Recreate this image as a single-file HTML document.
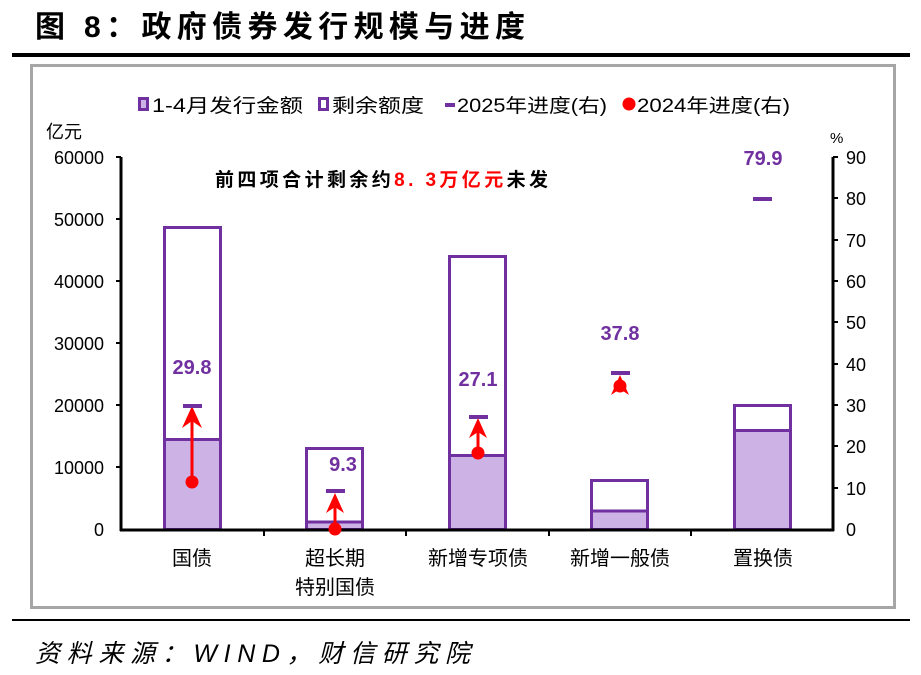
<!DOCTYPE html>
<html><head><meta charset="utf-8"><style>
html,body{margin:0;padding:0;background:#fff;}
svg{display:block;}
text{font-family:"Liberation Sans","Noto Sans CJK SC",sans-serif;}
</style></head><body>
<svg width="921" height="675" viewBox="0 0 921 675" xmlns="http://www.w3.org/2000/svg">
<text x="35" y="37" font-size="30" font-weight="bold" font-family="'Noto Serif CJK SC','Liberation Serif',serif" fill="#000" textLength="490" lengthAdjust="spacing">图 8：政府债券发行规模与进度</text>
<rect x="12" y="53" width="898" height="4" fill="#000"/>
<rect x="31.5" y="65.5" width="863" height="542" fill="none" stroke="#A6A6A6" stroke-width="3"/>
<rect x="12" y="619" width="898" height="2" fill="#000"/>
<text x="35" y="662" font-size="25" font-style="italic" font-family="'Noto Serif CJK SC','Liberation Serif',serif" fill="#000" textLength="435" lengthAdjust="spacing">资料来源：WIND，财信研究院</text>

<!-- legend -->
<rect x="138" y="97" width="11" height="14" fill="#7030A0"/><rect x="141" y="100" width="5" height="8" fill="#CDB2E6"/>
<text x="152" y="112" font-size="19" fill="#000" textLength="151" lengthAdjust="spacingAndGlyphs">1-4月发行金额</text>
<rect x="318" y="97" width="11" height="14" fill="#7030A0"/><rect x="321" y="100" width="5" height="8" fill="#fff"/>
<text x="332" y="112" font-size="19" fill="#000" textLength="92" lengthAdjust="spacingAndGlyphs">剩余额度</text>
<rect x="445" y="103" width="10" height="4" fill="#7030A0"/>
<text x="457" y="112" font-size="19" fill="#000" textLength="150" lengthAdjust="spacingAndGlyphs">2025年进度(右)</text>
<circle cx="629" cy="104" r="6.5" fill="#FF0000"/>
<text x="637" y="112" font-size="19" fill="#000" textLength="153" lengthAdjust="spacingAndGlyphs">2024年进度(右)</text>

<text x="46" y="138" font-size="18" fill="#000">亿元</text>
<text x="830" y="143" font-size="15" fill="#000">%</text>

<!-- left axis -->
<g font-size="18" fill="#000" text-anchor="end">
<text x="104" y="536">0</text><text x="104" y="474">10000</text><text x="104" y="412">20000</text>
<text x="104" y="350">30000</text><text x="104" y="288">40000</text><text x="104" y="226">50000</text><text x="104" y="164">60000</text>
</g>
<g stroke="#000" stroke-width="2">
<line x1="121" y1="157" x2="121" y2="531" stroke-width="3"/>
<line x1="116" y1="157" x2="121" y2="157"/><line x1="116" y1="219" x2="121" y2="219"/><line x1="116" y1="281" x2="121" y2="281"/>
<line x1="116" y1="343" x2="121" y2="343"/><line x1="116" y1="405" x2="121" y2="405"/><line x1="116" y1="467" x2="121" y2="467"/>
<line x1="833" y1="157" x2="833" y2="531" stroke-width="3"/>
<line x1="833" y1="157" x2="838" y2="157"/><line x1="833" y1="198" x2="838" y2="198"/><line x1="833" y1="240" x2="838" y2="240"/>
<line x1="833" y1="281" x2="838" y2="281"/><line x1="833" y1="322" x2="838" y2="322"/><line x1="833" y1="364" x2="838" y2="364"/>
<line x1="833" y1="405" x2="838" y2="405"/><line x1="833" y1="446" x2="838" y2="446"/><line x1="833" y1="488" x2="838" y2="488"/>
</g>
<g font-size="18" fill="#000">
<text x="846" y="164">90</text><text x="846" y="205">80</text><text x="846" y="247">70</text><text x="846" y="288">60</text>
<text x="846" y="329">50</text><text x="846" y="371">40</text><text x="846" y="412">30</text><text x="846" y="453">20</text>
<text x="846" y="495">10</text><text x="846" y="536">0</text>
</g>

<!-- bars -->
<g stroke="#7030A0" stroke-width="3">
<rect x="164.5" y="227.5" width="56" height="302" fill="#fff"/><rect x="164.5" y="439.5" width="56" height="90" fill="#CDB2E6"/>
<rect x="306.5" y="448.5" width="56" height="81" fill="#fff"/><rect x="306.5" y="522" width="56" height="7.5" fill="#CDB2E6"/>
<rect x="449.5" y="256.5" width="56" height="273" fill="#fff"/><rect x="449.5" y="455.5" width="56" height="74" fill="#CDB2E6"/>
<rect x="591.5" y="480.5" width="56" height="49" fill="#fff"/><rect x="591.5" y="511" width="56" height="18.5" fill="#CDB2E6"/>
<rect x="734.5" y="405.5" width="56" height="124" fill="#fff"/><rect x="734.5" y="430.5" width="56" height="99" fill="#CDB2E6"/>
</g>

<g stroke="#000" stroke-width="3">
<line x1="120" y1="530" x2="834" y2="530"/>
</g>
<g stroke="#000" stroke-width="2">
<line x1="264" y1="530" x2="264" y2="536"/><line x1="406" y1="530" x2="406" y2="536"/>
<line x1="549" y1="530" x2="549" y2="536"/><line x1="691" y1="530" x2="691" y2="536"/>
</g>
<g font-size="20" fill="#000" text-anchor="middle">
<text x="192" y="565">国债</text>
<text x="335" y="565">超长期</text><text x="335" y="594">特别国债</text>
<text x="478" y="565">新增专项债</text>
<text x="620" y="565">新增一般债</text>
<text x="763" y="565">置换债</text>
</g>

<g stroke="#FF0000" stroke-width="3" fill="#FF0000">
<line x1="192" y1="482" x2="192" y2="420"/>
<line x1="335" y1="529" x2="335" y2="503"/>
<line x1="478" y1="453" x2="478" y2="430"/>
</g>
<g fill="#FF0000">
<polygon points="192,406 182,428 192,421 202,428"/>
<polygon points="335,493 326,513 335,507 344,513"/>
<polygon points="478,418 469,438 478,432 487,438"/>
<polygon points="620,375 611,395 620,389 629,395"/>
<circle cx="192" cy="482" r="6.5"/><circle cx="335" cy="529" r="6.5"/>
<circle cx="478" cy="453" r="6.5"/><circle cx="620" cy="386" r="6.5"/>
</g>
<g fill="#7030A0">
<rect x="183" y="404" width="19" height="4"/>
<rect x="326" y="489" width="19" height="4"/>
<rect x="469" y="415" width="19" height="4"/>
<rect x="611" y="371" width="19" height="4"/>
<rect x="753" y="197" width="19" height="4"/>
</g>
<g font-size="20" font-weight="bold" fill="#7030A0" text-anchor="middle">
<text x="192" y="374">29.8</text>
<text x="343" y="471">9.3</text>
<text x="478" y="386">27.1</text>
<text x="620" y="340">37.8</text>
<text x="763" y="165">79.9</text>
</g>
<text x="215" y="186" font-size="19" font-weight="bold" fill="#000" textLength="333" lengthAdjust="spacing">前四项合计剩余约<tspan fill="#FF0000">8. 3万亿元</tspan>未发</text>
</svg>
</body></html>
